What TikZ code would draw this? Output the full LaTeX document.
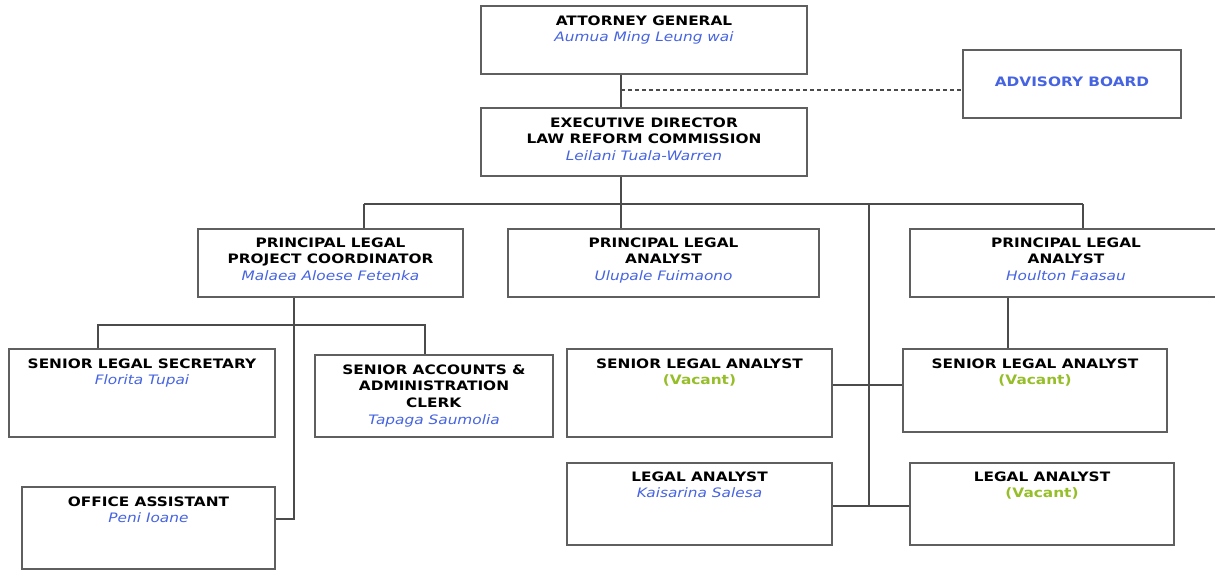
\documentclass[tikz,border=0pt]{standalone}
\usepackage{fontspec}
\setmainfont{DejaVu Sans}[FakeStretch=1.18]
\usetikzlibrary{calc}
\definecolor{nameblue}{RGB}{70,100,225}
\definecolor{vacgreen}{RGB}{150,190,40}
\definecolor{boxgray}{RGB}{95,95,95}
\definecolor{linegray}{RGB}{75,75,75}
\tikzset{
  unitbox/.style={draw=boxgray, line width=1.4pt, fill=white, inner sep=0pt, rectangle},
  lbl/.style={anchor=north, inner sep=0pt, align=center, font=\fontsize{13}{16.8}\selectfont},
  conn/.style={draw=linegray, line width=1.2pt},
}
\newcommand{\ttl}[1]{\textbf{#1}}
\newcommand{\nm}[1]{\textcolor{nameblue}{\itshape #1}}
\newcommand{\vac}{\textcolor{vacgreen}{\bfseries (Vacant)}}
\begin{document}
\begin{tikzpicture}[x=1pt,y=-1pt]
\useasboundingbox[fill=white] (0,0) rectangle (1215,571);
\clip (0,0) rectangle (1215,571);
% boxes
\node[unitbox, minimum width=326pt, minimum height=68pt] (ag) at (644,40) {};
\node[unitbox, minimum width=218pt, minimum height=68pt] (ab) at (1072,84) {};
\node[unitbox, minimum width=326pt, minimum height=68pt] (ed) at (644,142) {};
\node[unitbox, minimum width=265pt, minimum height=68pt] (plpc) at (330.5,263) {};
\node[unitbox, minimum width=311pt, minimum height=68pt] (pla1) at (663.5,263) {};
\node[unitbox, minimum width=312pt, minimum height=68pt] (pla2) at (1066,263) {};
\node[unitbox, minimum width=266pt, minimum height=88pt] (sls) at (142,393) {};
\node[unitbox, minimum width=238pt, minimum height=82pt] (saac) at (434,396) {};
\node[unitbox, minimum width=253pt, minimum height=82pt] (oa) at (148.5,528) {};
\node[unitbox, minimum width=265pt, minimum height=88pt] (sla1) at (699.5,393) {};
\node[unitbox, minimum width=264pt, minimum height=83pt] (sla2) at (1035,390.5) {};
\node[unitbox, minimum width=265pt, minimum height=82pt] (la1) at (699.5,504) {};
\node[unitbox, minimum width=264pt, minimum height=82pt] (la2) at (1042,504) {};
% texts
\node[lbl] (agT) at ([yshift=-10pt]ag.north) {\ttl{ATTORNEY GENERAL}\\\nm{Aumua Ming Leung wai}};
\node[inner sep=0pt, font=\fontsize{13}{16.8}\selectfont] (abT) at (1072,82) {\textcolor{nameblue}{\bfseries ADVISORY BOARD}};
\node[lbl] (edT) at ([yshift=-10pt]ed.north) {\ttl{EXECUTIVE DIRECTOR}\\\ttl{LAW REFORM COMMISSION}\\\nm{Leilani Tuala-Warren}};
\node[lbl] (plpcT) at ([yshift=-9pt]plpc.north) {\ttl{PRINCIPAL LEGAL}\\\ttl{PROJECT COORDINATOR}\\\nm{Malaea Aloese Fetenka}};
\node[lbl] (pla1T) at ([yshift=-9pt]pla1.north) {\ttl{PRINCIPAL LEGAL}\\\ttl{ANALYST}\\\nm{Ulupale Fuimaono}};
\node[lbl] (pla2T) at ([yshift=-9pt]pla2.north) {\ttl{PRINCIPAL LEGAL}\\\ttl{ANALYST}\\\nm{Houlton Faasau}};
\node[lbl] (slsT) at ([yshift=-10pt]sls.north) {\ttl{SENIOR LEGAL SECRETARY}\\\nm{Florita Tupai}};
\node[lbl] (saacT) at ([yshift=-10pt]saac.north) {\ttl{SENIOR ACCOUNTS \&}\\\ttl{ADMINISTRATION}\\\ttl{CLERK}\\\nm{Tapaga Saumolia}};
\node[lbl] (oaT) at ([yshift=-10pt]oa.north) {\ttl{OFFICE ASSISTANT}\\\nm{Peni Ioane}};
\node[lbl] (sla1T) at ([yshift=-10pt]sla1.north) {\ttl{SENIOR LEGAL ANALYST}\\\vac};
\node[lbl] (sla2T) at ([yshift=-10pt]sla2.north) {\ttl{SENIOR LEGAL ANALYST}\\\vac};
\node[lbl] (la1T) at ([yshift=-9pt]la1.north) {\ttl{LEGAL ANALYST}\\\nm{Kaisarina Salesa}};
\node[lbl] (la2T) at ([yshift=-9pt]la2.north) {\ttl{LEGAL ANALYST}\\\vac};
% helper coordinates
\coordinate (xA) at (621,0);
\coordinate (dj) at (621,90);
\coordinate (busL) at (364,204);
\coordinate (busR) at (1083,204);
\coordinate (xM) at (869,204);
\coordinate (ySLA) at (0,385);
\coordinate (yLA) at (0,506);
\coordinate (xP2) at (1008,0);
\coordinate (xP) at (294,0);
\coordinate (yOA) at (0,519);
\coordinate (b2L) at (98,325);
\coordinate (b2R) at (425,325);
% connectors
\draw[conn] (xA |- ag.south) -- (xA |- ed.north);
\draw[conn, dash pattern=on 4pt off 3pt] (dj) -- (dj -| ab.west);
\draw[conn] (xA |- ed.south) -- (xA |- busL);
\draw[conn] (busL) -- (busR);
\draw[conn] (busL) -- (busL |- plpc.north);
\draw[conn] (xA |- busL) -- (xA |- pla1.north);
\draw[conn] (busR) -- (busR |- pla2.north);
\draw[conn] (xM) -- (xM |- yLA);
\draw[conn] (sla1.east |- ySLA) -- (sla2.west |- ySLA);
\draw[conn] (la1.east |- yLA) -- (la2.west |- yLA);
\draw[conn] (xP2 |- pla2.south) -- (xP2 |- sla2.north);
\draw[conn] (xP |- plpc.south) -- (xP |- yOA) -- (oa.east |- yOA);
\draw[conn] (b2L |- sls.north) -- (b2L) -- (b2R) -- (b2R |- saac.north);
\end{tikzpicture}
\end{document}
